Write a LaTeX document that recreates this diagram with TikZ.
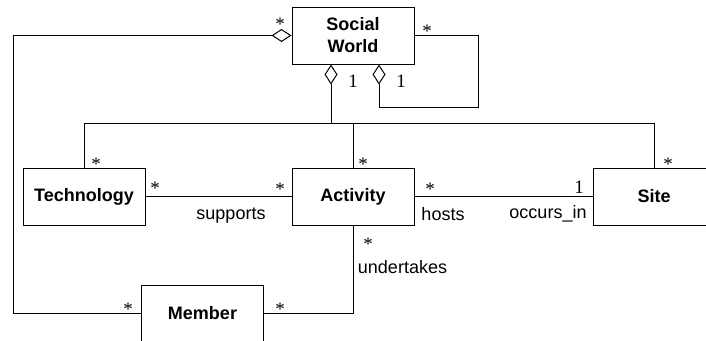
\documentclass[tikz,border=0pt]{standalone}
\usepackage{fontspec}
\setmainfont{Liberation Serif}
\setsansfont{Liberation Sans}
\usetikzlibrary{arrows.meta,calc}
\begin{document}
\begin{tikzpicture}[x=1pt,y=-1pt,
  cls/.style={draw,line width=1pt,minimum width=122pt,minimum height=57pt,inner sep=0pt,font=\sffamily\bfseries\fontsize{18}{22}\selectfont,align=center},
  conn/.style={line width=1pt},
  agg/.style={conn,{Diamond[open,length=20pt,width=13pt,line width=1pt]}-},
  mult/.style={font=\fontsize{19}{19}\selectfont,inner sep=0pt},
  lbl/.style={font=\sffamily\fontsize{18}{18}\selectfont,inner sep=0pt}]
\useasboundingbox (0,0) rectangle (706,340);
\clip (0,0) rectangle (706,340);
\node[cls] (sw) at (353,35.5) {Social\\World};
\node[cls] (tech) at (84,196.5) {Technology};
\node[cls] (act) at (353,196.5) {Activity};
\node[cls] (site) at (654,196.5) {Site};
\node[cls] (mem) at (202.5,313.5) {Member};
\coordinate (lx) at (13,0);
\coordinate (rx) at (478,107);
\coordinate (bus) at (0,123.5);
\coordinate (d1) at ($(sw.south)+(-22,0)$);
\coordinate (d2) at ($(sw.south)+(26,0)$);
\draw[agg] (sw.west) -- (sw.west -| lx) |- (mem.west);
\draw[agg] (d2) |- (rx) |- (sw.east);
\draw[agg] (d1) -- (d1 |- bus);
\draw[conn] (tech.north) |- (bus -| site.north) -- (site.north);
\draw[conn] (act.north) -- (act.north |- bus);
\draw[conn] (tech.east) -- (act.west);
\draw[conn] (act.east) -- (site.west);
\draw[conn] (act.south) |- (mem.east);
% multiplicities
\node[mult] (m1) at (280,24) {*};
\node[mult] (m2) at (427,31) {*};
\node[mult] (m3) at (353,81) {1};
\node[mult] (m4) at (401,81) {1};
\node[mult] (m5) at (96,164) {*};
\node[mult] (m6) at (363,164) {*};
\node[mult] (m7) at (668,164) {*};
\node[mult] (m8) at (155,188) {*};
\node[mult] (m9) at (280,189) {*};
\node[mult] (m10) at (430,189) {*};
\node[mult] (m11) at (579,187) {1};
\node[mult] (m12) at (368,244) {*};
\node[mult] (m13) at (128,309) {*};
\node[mult] (m14) at (280,309) {*};
% labels
\node[lbl] (l1) at (231,216) {supports};
\node[lbl] (l2) at (443,214) {hosts};
\node[lbl] (l3) at (548,214) {occurs\_in};
\node[lbl] (l4) at (402.5,267) {undertakes};
\end{tikzpicture}
\end{document}
